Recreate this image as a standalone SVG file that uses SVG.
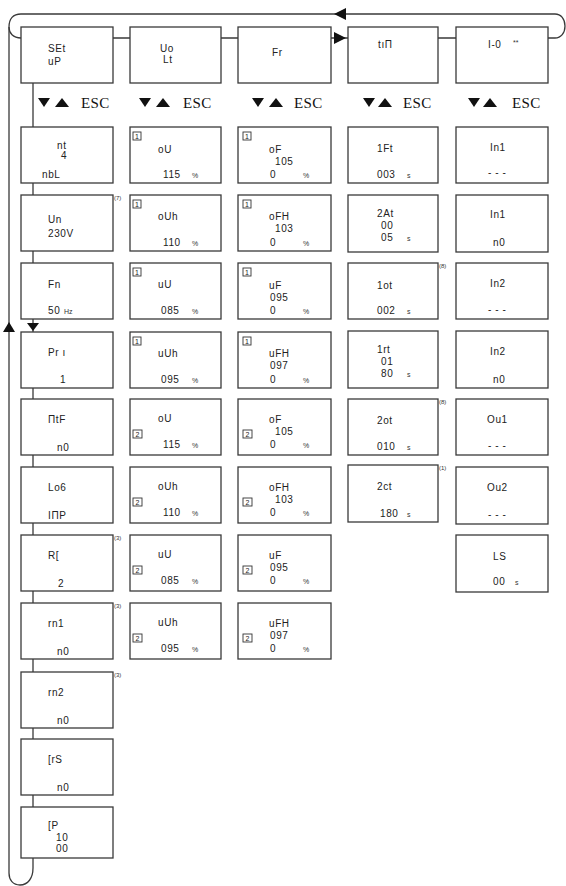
<svg xmlns="http://www.w3.org/2000/svg" width="566" height="886" viewBox="0 0 566 886">
<style>
.b{fill:#fff;stroke:#3a3a3a;stroke-width:1.3}
.c{fill:none;stroke:#3a3a3a;stroke-width:1.3}
.a{fill:#111;stroke:none}
.t{font-family:"Liberation Sans",sans-serif;font-size:10px;fill:#222;letter-spacing:0.6px}
.u{font-family:"Liberation Sans",sans-serif;font-size:7px;fill:#333}
.n{font-family:"Liberation Sans",sans-serif;font-size:6px;fill:#333}
.e{font-family:"Liberation Serif",serif;font-size:15px;fill:#111;letter-spacing:0.4px}
.k{fill:#fff;stroke:#333;stroke-width:0.9}
.kt{font-family:"Liberation Sans",sans-serif;font-size:7px;fill:#222;text-anchor:middle}
</style>
<rect width="566" height="886" fill="#fff"/>
<g id="connectors">
<path class="c" d="M21 38 C13 38 9 33 9 27 C9 19 13 14 21 14 L555 14 C561 14 565 19 565 26 C565 33 561 38 555 38 L548 38"/>
<path class="c" d="M9 27 L9 873 C9 880 13 885 20 885 C28 885 33 878 33 868 L33 858"/>
<path class="c" d="M113 38 H130 M221 38 H238 M331 38 H348 M438 38 H456"/>
<path class="c" d="M33 83 V127 M33 183 V195 M33 251 V263 M33 319 V332 M33 388 V399 M33 455 V467 M33 523 V535 M33 591 V603 M33 659 V672 M33 728 V739 M33 795 V807"/>
<polygon class="a" points="334,14 346,8 346,20"/>
<polygon class="a" points="334,32 334,44 346,38"/>
<polygon class="a" points="9,322 3,332 15,332"/>
<polygon class="a" points="27,323 39,323 33,331"/>
</g>
<g id="keys">
<polygon class="a" points="38,98 50,98 44,107"/><polygon class="a" points="55,107 69,107 62,98"/><text class="e" x="81" y="108">ESC</text>
<polygon class="a" points="139,98 151,98 145,107"/><polygon class="a" points="156,107 170,107 163,98"/><text class="e" x="183" y="108">ESC</text>
<polygon class="a" points="252,98 264,98 258,107"/><polygon class="a" points="269,107 283,107 276,98"/><text class="e" x="294" y="108">ESC</text>
<polygon class="a" points="363,98 375,98 369,107"/><polygon class="a" points="378,107 392,107 385,98"/><text class="e" x="403" y="108">ESC</text>
<polygon class="a" points="468,98 480,98 474,107"/><polygon class="a" points="483,107 497,107 490,98"/><text class="e" x="512" y="108">ESC</text>
</g>
<g id="setup"><rect class="b" x="21" y="27" width="92" height="56"/><text class="t" x="48" y="52">SEt</text><text class="t" x="48" y="65">uP</text></g>
<g id="volt"><rect class="b" x="130" y="27" width="91" height="56"/><text class="t" x="160" y="52">Uo</text><text class="t" x="163" y="63">Lt</text></g>
<g id="freq"><rect class="b" x="238" y="27" width="93" height="56"/><text class="t" x="272" y="56">Fr</text></g>
<g id="time"><rect class="b" x="348" y="27" width="90" height="56"/><text class="t" x="378" y="48">tıΠ</text></g>
<g id="io"><rect class="b" x="456" y="27" width="92" height="56"/><text class="t" x="488" y="48">I-0</text><text class="u" x="513" y="45">**</text></g>

<g id="c1r1"><rect class="b" x="21" y="127" width="92" height="56"/><text class="t" x="57" y="149">nt</text><text class="t" x="61" y="159">4</text><text class="t" x="42" y="178">nbL</text></g>
<g id="c1r2"><rect class="b" x="21" y="195" width="92" height="56"/><text class="t" x="48" y="223">Un</text><text class="t" x="48" y="237">230V</text><text class="n" x="114" y="200">(7)</text></g>
<g id="c1r3"><rect class="b" x="21" y="263" width="92" height="56"/><text class="t" x="48" y="288">Fn</text><text class="t" x="48" y="314">50</text><text class="u" x="64" y="314">Hz</text></g>
<g id="c1r4"><rect class="b" x="21" y="332" width="92" height="56"/><text class="t" x="48" y="356">Pr ı</text><text class="t" x="60" y="383">1</text></g>
<g id="c1r5"><rect class="b" x="21" y="399" width="92" height="56"/><text class="t" x="48" y="423">ΠtF</text><text class="t" x="57" y="451">n0</text></g>
<g id="c1r6"><rect class="b" x="21" y="467" width="92" height="56"/><text class="t" x="48" y="491">Lo6</text><text class="t" x="48" y="519">IΠP</text></g>
<g id="c1r7"><rect class="b" x="21" y="535" width="92" height="56"/><text class="t" x="48" y="559">R[</text><text class="t" x="58" y="587">2</text><text class="n" x="114" y="540">(3)</text></g>
<g id="c1r8"><rect class="b" x="21" y="603" width="92" height="56"/><text class="t" x="48" y="627">rn1</text><text class="t" x="57" y="655">n0</text><text class="n" x="114" y="608">(3)</text></g>
<g id="c1r9"><rect class="b" x="21" y="672" width="92" height="56"/><text class="t" x="48" y="696">rn2</text><text class="t" x="57" y="724">n0</text><text class="n" x="114" y="677">(3)</text></g>
<g id="c1r10"><rect class="b" x="21" y="739" width="92" height="56"/><text class="t" x="48" y="763">[rS</text><text class="t" x="57" y="791">n0</text></g>
<g id="c1r11"><rect class="b" x="21" y="807" width="92" height="51"/><text class="t" x="48" y="829">[P</text><text class="t" x="56" y="841">10</text><text class="t" x="56" y="852">00</text></g>

<g id="c2r1"><rect class="b" x="130" y="127" width="91" height="56"/><rect class="k" x="133" y="132" width="8" height="8"/><text class="kt" x="137" y="138.5">1</text><text class="t" x="158" y="153">oU</text><text class="t" x="163" y="178">115</text><text class="u" x="192" y="178">%</text></g>
<g id="c2r2"><rect class="b" x="130" y="195" width="91" height="56"/><rect class="k" x="133" y="200" width="8" height="8"/><text class="kt" x="137" y="206.5">1</text><text class="t" x="158" y="220">oUh</text><text class="t" x="163" y="246">110</text><text class="u" x="192" y="246">%</text></g>
<g id="c2r3"><rect class="b" x="130" y="263" width="91" height="56"/><rect class="k" x="133" y="268" width="8" height="8"/><text class="kt" x="137" y="274.5">1</text><text class="t" x="158" y="288">uU</text><text class="t" x="161" y="314">085</text><text class="u" x="192" y="314">%</text></g>
<g id="c2r4"><rect class="b" x="130" y="332" width="91" height="56"/><rect class="k" x="133" y="337" width="8" height="8"/><text class="kt" x="137" y="343.5">1</text><text class="t" x="158" y="357">uUh</text><text class="t" x="161" y="383">095</text><text class="u" x="192" y="383">%</text></g>
<g id="c2r5"><rect class="b" x="130" y="399" width="91" height="56"/><rect class="k" x="133" y="430" width="9" height="8"/><text class="kt" x="137.5" y="436.5">2</text><text class="t" x="158" y="422">oU</text><text class="t" x="163" y="448">115</text><text class="u" x="192" y="448">%</text></g>
<g id="c2r6"><rect class="b" x="130" y="467" width="91" height="56"/><rect class="k" x="133" y="498" width="9" height="8"/><text class="kt" x="137.5" y="504.5">2</text><text class="t" x="158" y="490">oUh</text><text class="t" x="163" y="516">110</text><text class="u" x="192" y="516">%</text></g>
<g id="c2r7"><rect class="b" x="130" y="535" width="91" height="56"/><rect class="k" x="133" y="566" width="9" height="8"/><text class="kt" x="137.5" y="572.5">2</text><text class="t" x="158" y="558">uU</text><text class="t" x="161" y="584">085</text><text class="u" x="192" y="584">%</text></g>
<g id="c2r8"><rect class="b" x="130" y="603" width="91" height="56"/><rect class="k" x="133" y="634" width="9" height="8"/><text class="kt" x="137.5" y="640.5">2</text><text class="t" x="158" y="626">uUh</text><text class="t" x="161" y="652">095</text><text class="u" x="192" y="652">%</text></g>

<g id="c3r1"><rect class="b" x="238" y="127" width="93" height="56"/><rect class="k" x="243" y="132" width="8" height="8"/><text class="kt" x="247" y="138.5">1</text><text class="t" x="269" y="153">oF</text><text class="t" x="275" y="165">105</text><text class="t" x="270" y="178">0</text><text class="u" x="303" y="178">%</text></g>
<g id="c3r2"><rect class="b" x="238" y="195" width="93" height="56"/><rect class="k" x="243" y="200" width="8" height="8"/><text class="kt" x="247" y="206.5">1</text><text class="t" x="269" y="220">oFH</text><text class="t" x="275" y="232">103</text><text class="t" x="270" y="246">0</text><text class="u" x="303" y="246">%</text></g>
<g id="c3r3"><rect class="b" x="238" y="263" width="93" height="56"/><rect class="k" x="243" y="268" width="8" height="8"/><text class="kt" x="247" y="274.5">1</text><text class="t" x="269" y="289">uF</text><text class="t" x="270" y="301">095</text><text class="t" x="270" y="314">0</text><text class="u" x="303" y="314">%</text></g>
<g id="c3r4"><rect class="b" x="238" y="332" width="93" height="56"/><rect class="k" x="243" y="337" width="8" height="8"/><text class="kt" x="247" y="343.5">1</text><text class="t" x="269" y="357">uFH</text><text class="t" x="270" y="369">097</text><text class="t" x="270" y="383">0</text><text class="u" x="303" y="383">%</text></g>
<g id="c3r5"><rect class="b" x="238" y="399" width="93" height="56"/><rect class="k" x="243" y="430" width="9" height="8"/><text class="kt" x="247.5" y="436.5">2</text><text class="t" x="269" y="423">oF</text><text class="t" x="275" y="435">105</text><text class="t" x="270" y="448">0</text><text class="u" x="303" y="448">%</text></g>
<g id="c3r6"><rect class="b" x="238" y="467" width="93" height="56"/><rect class="k" x="243" y="498" width="9" height="8"/><text class="kt" x="247.5" y="504.5">2</text><text class="t" x="269" y="491">oFH</text><text class="t" x="275" y="503">103</text><text class="t" x="270" y="516">0</text><text class="u" x="303" y="516">%</text></g>
<g id="c3r7"><rect class="b" x="238" y="535" width="93" height="56"/><rect class="k" x="243" y="566" width="9" height="8"/><text class="kt" x="247.5" y="572.5">2</text><text class="t" x="269" y="559">uF</text><text class="t" x="270" y="571">095</text><text class="t" x="270" y="584">0</text><text class="u" x="303" y="584">%</text></g>
<g id="c3r8"><rect class="b" x="238" y="603" width="93" height="56"/><rect class="k" x="243" y="634" width="9" height="8"/><text class="kt" x="247.5" y="640.5">2</text><text class="t" x="269" y="627">uFH</text><text class="t" x="270" y="639">097</text><text class="t" x="270" y="652">0</text><text class="u" x="303" y="652">%</text></g>

<g id="c4r1"><rect class="b" x="348" y="127" width="90" height="56"/><text class="t" x="377" y="152">1Ft</text><text class="t" x="377" y="178">003</text><text class="u" x="407" y="178">s</text></g>
<g id="c4r2"><rect class="b" x="348" y="195" width="90" height="57"/><text class="t" x="377" y="217">2At</text><text class="t" x="381" y="229">00</text><text class="t" x="381" y="241">05</text><text class="u" x="407" y="241">s</text></g>
<g id="c4r3"><rect class="b" x="348" y="263" width="90" height="56"/><text class="t" x="377" y="289">1ot</text><text class="t" x="377" y="314">002</text><text class="u" x="407" y="314">s</text><text class="n" x="439" y="268">(8)</text></g>
<g id="c4r4"><rect class="b" x="348" y="331" width="90" height="57"/><text class="t" x="377" y="353">1rt</text><text class="t" x="381" y="365">01</text><text class="t" x="381" y="377">80</text><text class="u" x="407" y="377">s</text></g>
<g id="c4r5"><rect class="b" x="348" y="399" width="90" height="56"/><text class="t" x="377" y="424">2ot</text><text class="t" x="377" y="450">010</text><text class="u" x="407" y="450">s</text><text class="n" x="439" y="404">(8)</text></g>
<g id="c4r6"><rect class="b" x="348" y="465" width="90" height="57"/><text class="t" x="377" y="490">2ct</text><text class="t" x="380" y="517">180</text><text class="u" x="407" y="517">s</text><text class="n" x="439" y="470">(1)</text></g>

<g id="c5r1"><rect class="b" x="456" y="127" width="92" height="56"/><text class="t" x="490" y="151">In1</text><text class="t" x="488" y="176">- - -</text></g>
<g id="c5r2"><rect class="b" x="456" y="195" width="92" height="57"/><text class="t" x="490" y="218">In1</text><text class="t" x="493" y="246">n0</text></g>
<g id="c5r3"><rect class="b" x="456" y="263" width="92" height="56"/><text class="t" x="490" y="287">In2</text><text class="t" x="488" y="313">- - -</text></g>
<g id="c5r4"><rect class="b" x="456" y="331" width="92" height="57"/><text class="t" x="490" y="355">In2</text><text class="t" x="493" y="383">n0</text></g>
<g id="c5r5"><rect class="b" x="456" y="399" width="92" height="56"/><text class="t" x="487" y="423">Ou1</text><text class="t" x="488" y="449">- - -</text></g>
<g id="c5r6"><rect class="b" x="456" y="467" width="92" height="57"/><text class="t" x="487" y="491">Ou2</text><text class="t" x="488" y="518">- - -</text></g>
<g id="c5r7"><rect class="b" x="456" y="535" width="92" height="57"/><text class="t" x="493" y="560">LS</text><text class="t" x="493" y="585">00</text><text class="u" x="515" y="585">s</text></g>
</svg>
